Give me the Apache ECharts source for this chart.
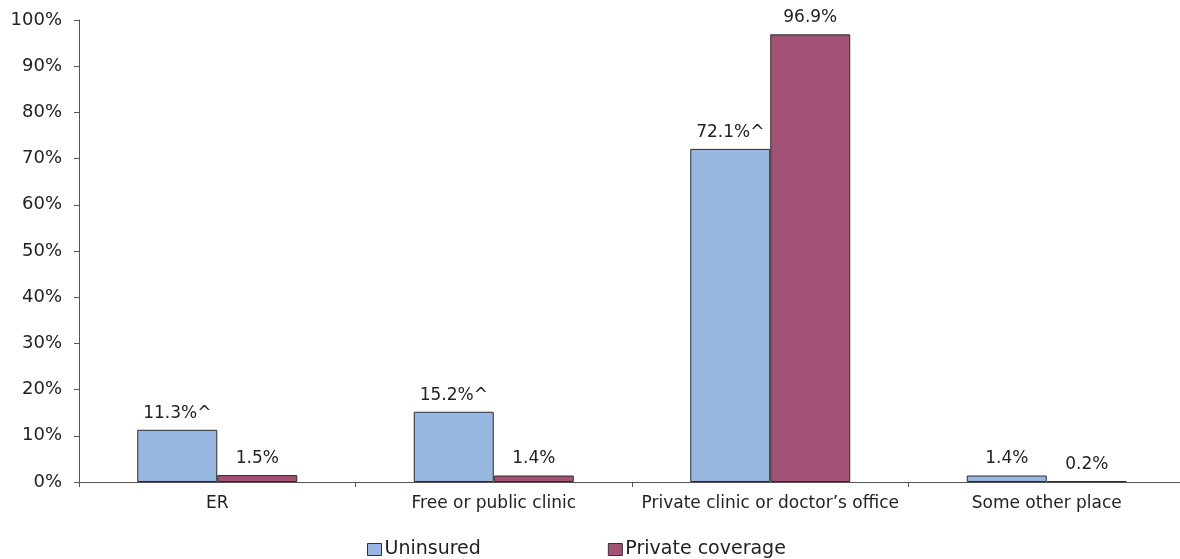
<!DOCTYPE html>
<html><head><meta charset="utf-8">
<script src="https://cdn.jsdelivr.net/npm/echarts@6/dist/echarts.min.js"></script>
<style>html,body{margin:0;padding:0;background:#fff;overflow:hidden}#c{width:1186px;height:559px}</style>
</head><body><div id="c"></div>
<script>
const categories = ["ER", "Free or public clinic", "Private clinic or doctor\u2019s office", "Some other place"];
const seriesNames = ["Uninsured", "Private coverage"];
const uninsured = [11.3, 15.2, 72.1, 1.4];
const privateCov = [1.5, 1.4, 96.9, 0.2];
const uninsuredLabels = ["11.3%^", "15.2%^", "72.1%^", "1.4%"];
const privateLabels = ["1.5%", "1.4%", "96.9%", "0.2%"];
const yTicks = [0, 10, 20, 30, 40, 50, 60, 70, 80, 90, 100];

const font = "'DejaVu Sans', Verdana, sans-serif";
const chart = echarts.init(document.getElementById('c'));
function mk(name, data, labels, color) {
  return {
    name, type: 'bar', data, barWidth: 80, barGap: '0%',
    itemStyle: { color, borderColor: '#2b2b2b', borderWidth: 1 },
    label: { show: true, position: 'top', distance: 8, fontFamily: font, fontSize: 17, color: '#222',
      formatter: p => labels[p.dataIndex] },
    emphasis: { disabled: true }
  };
}
chart.setOption({
  animation: false,
  grid: { left: 79, right: 1, top: 20, bottom: 77, containLabel: false },
  legend: {
    bottom: -5, left: 362, itemWidth: 14, itemHeight: 12, itemGap: 127,
    icon: 'rect',
    itemStyle: { borderColor: '#333', borderWidth: 1 },
    textStyle: { fontFamily: font, fontSize: 19, color: '#222', padding: [0, 0, 0, -2] },
    data: seriesNames
  },
  xAxis: {
    type: 'category', data: categories,
    axisLine: { lineStyle: { color: '#555', width: 1 } },
    axisTick: { show: true, length: 5, lineStyle: { color: '#555' } },
    axisLabel: { fontFamily: font, fontSize: 17, color: '#222', margin: 13, interval: 0 }
  },
  yAxis: {
    type: 'value', min: yTicks[0], max: yTicks[yTicks.length - 1], interval: 10,
    axisLine: { show: true, lineStyle: { color: '#555', width: 1 } },
    axisTick: { show: true, length: 5, lineStyle: { color: '#555' } },
    splitLine: { show: false },
    axisLabel: { fontFamily: font, fontSize: 18, color: '#222', margin: 17, formatter: v => v + '%' }
  },
  series: [
    mk(seriesNames[0], uninsured, uninsuredLabels, '#97B7E0'),
    mk(seriesNames[1], privateCov, privateLabels, '#A25274')
  ]
});
</script></body></html>
